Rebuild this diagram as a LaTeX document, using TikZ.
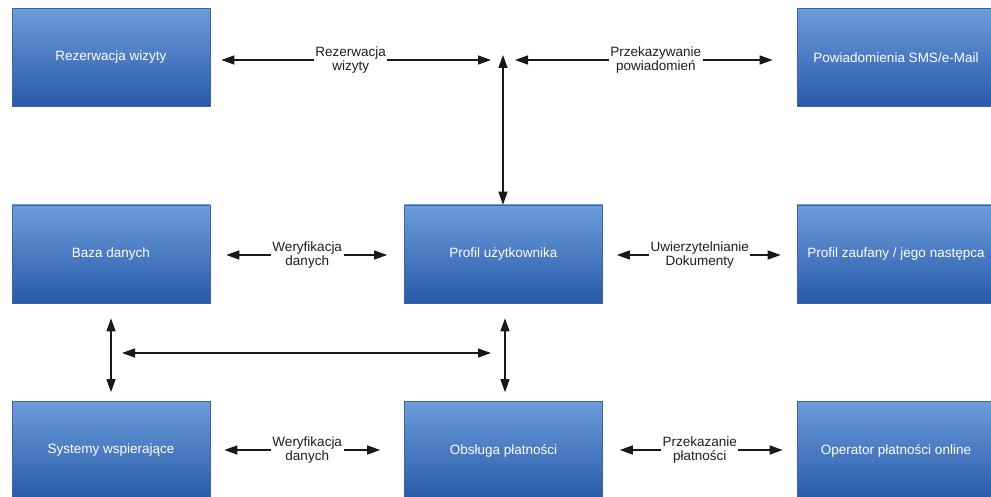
\documentclass[tikz,border=0pt]{standalone}
\usepackage{fontspec}
\setmainfont{Liberation Sans}
\usetikzlibrary{arrows.meta,calc}
\definecolor{boxtop}{RGB}{108,156,220}
\definecolor{boxbot}{RGB}{40,90,168}
\definecolor{boxline}{RGB}{62,100,158}
\definecolor{linec}{RGB}{25,25,25}
\tikzset{
  blk/.style={draw=boxline, line width=0.6pt, top color=boxtop, bottom color=boxbot,
    minimum width=198pt, minimum height=98pt, text=white, inner sep=0pt,
    font=\fontsize{13.5}{15}\selectfont},
  conn/.style={line width=1.3pt, draw=linec, {Triangle[length=13pt,width=9pt]}-{Triangle[length=13pt,width=9pt]}},
  lbl/.style={fill=white, align=center, inner sep=1.5pt, text={rgb,255:red,30;green,30;blue,30},
    font=\fontsize{13.5}{14}\selectfont}
}
\begin{document}
\begin{tikzpicture}[x=1pt,y=-1pt]
\useasboundingbox (0,0) rectangle (991,497);
% boxes
\node[blk] (rez) at (111,57.5) {Rezerwacja wizyty};
\node[blk] (pow) at (896,57.5) {Powiadomienia SMS/e-Mail};
\node[blk] (baza) at (111,254) {Baza danych};
\node[blk] (prof) at (503.5,254) {Profil użytkownika};
\node[blk] (zauf) at (896,254) {Profil zaufany / jego następca};
\node[blk] (sys) at (111,450.5) {Systemy wspierające};
\node[blk] (obs) at (503.5,450.5) {Obsługa płatności};
\node[blk] (oper) at (896,450.5) {Operator płatności online};
% coordinates
\coordinate (hubL) at (491,60);
\coordinate (hubR) at (515,60);
\coordinate (hubT) at (503,55);
\coordinate (hL) at (122,353);
\coordinate (hR) at (491,353);
% top row
\draw[conn, shorten <=11pt] (rez.east |- hubL) -- node[lbl]{Rezerwacja\\wizyty} (hubL);
\draw[conn, shorten >=24pt] (hubR) -- node[lbl]{Przekazywanie\\powiadomień} (pow.west |- hubR);
\draw[conn] (hubT) -- (prof.north -| hubT);
% middle row
\draw[conn, shorten <=16pt, shorten >=17pt] (baza.east |- 0,255) -- node[lbl]{Weryfikacja\\danych} (prof.west |- 0,255);
\draw[conn, shorten <=14pt, shorten >=16pt] (prof.east |- 0,255) -- node[lbl]{Uwierzytelnianie\\Dokumenty} (zauf.west |- 0,255);
% verticals
\draw[conn, shorten <=15pt, shorten >=9pt] (baza.south) -- (sys.north);
\draw[conn, shorten <=15pt, shorten >=9pt] ($(prof.south)+(1.5,0)$) -- ($(obs.north)+(1.5,0)$);
\draw[conn] (hL) -- (hR);
% bottom row
\draw[conn, shorten <=14pt, shorten >=24pt] (sys.east |- 0,450) -- node[lbl]{Weryfikacja\\danych} (obs.west |- 0,450);
\draw[conn, shorten <=17pt, shorten >=14pt] (obs.east |- 0,450) -- node[lbl]{Przekazanie\\płatności} (oper.west |- 0,450);
\end{tikzpicture}
\end{document}
